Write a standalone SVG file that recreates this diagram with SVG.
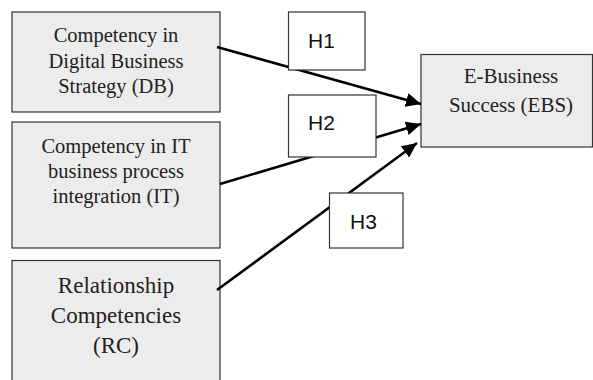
<svg xmlns="http://www.w3.org/2000/svg" width="593" height="380" viewBox="0 0 593 380">
  <style>
    .node { fill: #ececec; stroke: #333; stroke-width: 1.2; }
    .hyp { fill: #fff; stroke: #333; stroke-width: 1.2; }
    .lbl { font-family: "Liberation Serif", "Times New Roman", serif; fill: #222; text-anchor: middle; }
    .h { font-family: "Liberation Sans", Arial, sans-serif; font-size: 21px; fill: #111; }
    .edge { stroke: #000; stroke-width: 2.6; fill: none; marker-end: url(#arrow); }
  </style>
  <defs>
    <marker id="arrow" markerUnits="userSpaceOnUse" markerWidth="16" markerHeight="14" refX="15" refY="7" orient="auto">
      <path d="M0,0 L15,7 L0,14 Z" fill="#000"/>
    </marker>
  </defs>

  <rect width="593" height="380" fill="#fff"/>

  <g id="DB">
    <rect class="node" x="12" y="12" width="208" height="100"/>
    <text class="lbl" font-size="20.5" x="116" y="42">Competency in</text>
    <text class="lbl" font-size="20.5" x="116" y="67.5">Digital Business</text>
    <text class="lbl" font-size="20.5" x="116" y="93">Strategy (DB)</text>
  </g>

  <g id="IT">
    <rect class="node" x="12" y="122" width="208" height="126"/>
    <text class="lbl" font-size="20.5" x="116" y="153">Competency in IT</text>
    <text class="lbl" font-size="20.5" x="116" y="178">business process</text>
    <text class="lbl" font-size="20.5" x="116" y="203">integration (IT)</text>
  </g>

  <g id="RC">
    <rect class="node" x="12" y="260.5" width="208" height="130"/>
    <text class="lbl" font-size="23" x="116" y="293">Relationship</text>
    <text class="lbl" font-size="23" x="116" y="323">Competencies</text>
    <text class="lbl" font-size="23" x="116" y="353">(RC)</text>
  </g>

  <g id="EBS">
    <rect class="node" x="421" y="54.5" width="171.5" height="92.5"/>
    <text class="lbl" font-size="21" x="511" y="83">E-Business</text>
    <text class="lbl" font-size="21" x="511" y="111.5">Success (EBS)</text>
  </g>

  <g id="connectors">
    <line class="edge" x1="217" y1="47" x2="421" y2="104"/>
    <line class="edge" x1="220" y1="184" x2="421" y2="124"/>
    <line class="edge" x1="217" y1="290" x2="417" y2="143"/>
  </g>

  <g id="H1">
    <rect class="hyp" x="288.5" y="12" width="76.5" height="58"/>
    <text class="h" x="308" y="48">H1</text>
  </g>

  <g id="H2">
    <rect class="hyp" x="288.5" y="95" width="87.5" height="62"/>
    <text class="h" x="308" y="130">H2</text>
  </g>

  <g id="H3">
    <rect class="hyp" x="329.5" y="193" width="73.5" height="55"/>
    <text class="h" x="350" y="229">H3</text>
  </g>
</svg>
